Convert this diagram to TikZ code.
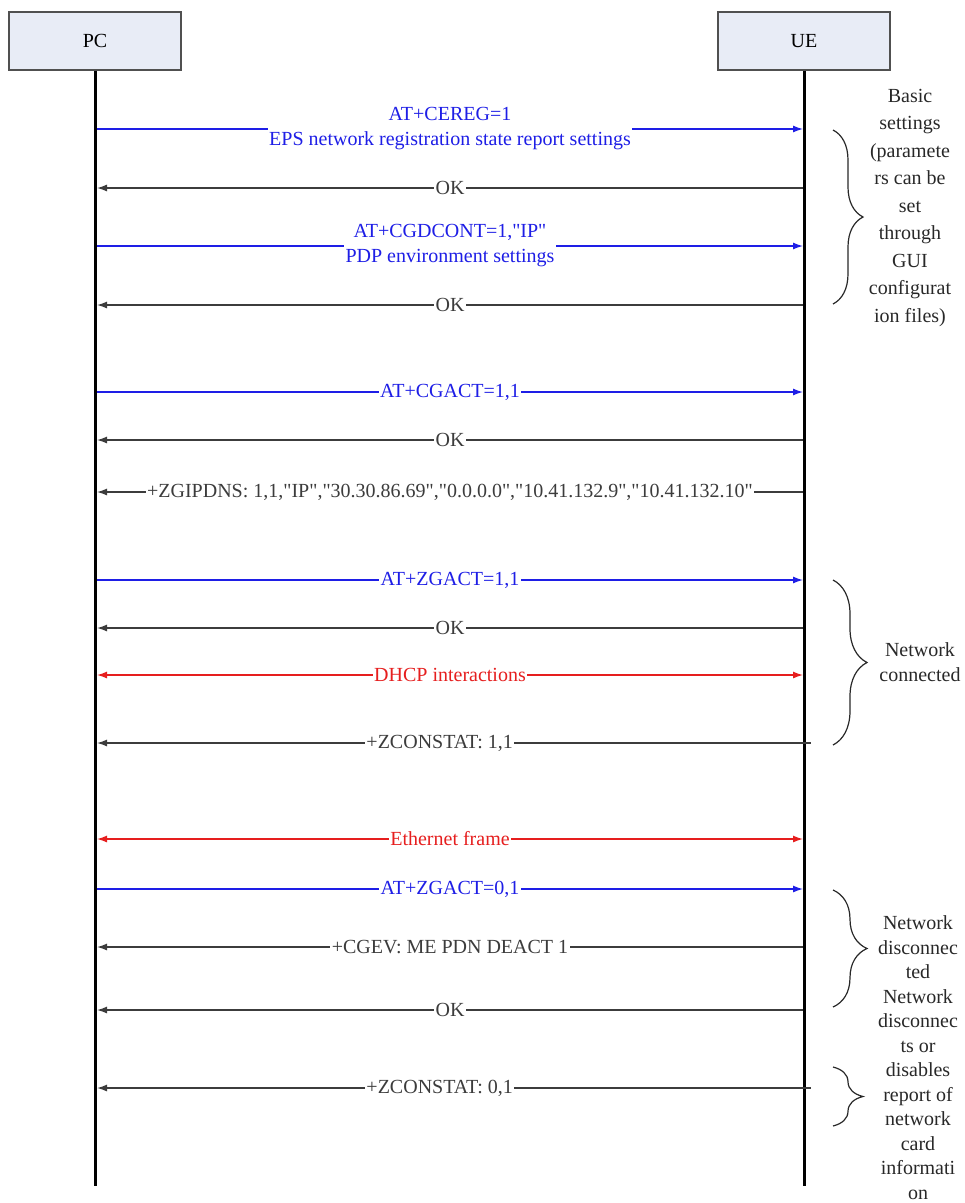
\documentclass[tikz,border=0pt]{standalone}
\usepackage{fontspec}
\setmainfont{Liberation Serif}
\usetikzlibrary{arrows.meta, decorations.pathreplacing}

\definecolor{boxfill}{RGB}{232,236,246}
\definecolor{boxgray}{RGB}{80,80,80}
\definecolor{reqblue}{RGB}{30,30,230}
\definecolor{rspgray}{RGB}{60,60,60}
\definecolor{datared}{RGB}{230,30,30}
\definecolor{notegray}{RGB}{40,40,40}

\begin{document}
\begin{tikzpicture}
  [x=1pt, y=-1pt,
   >={Latex[length=10pt,width=7pt]},
   entity/.style={rectangle, draw=boxgray, fill=boxfill, line width=1.2pt,
                  minimum width=172pt, minimum height=58pt,
                  font=\fontsize{20}{25}\selectfont},
   lifeline/.style={line width=3pt},
   req/.style={->, draw=reqblue, line width=1.3pt},
   rsp/.style={<-, draw=rspgray, line width=1.3pt},
   data/.style={<->, draw=datared, line width=1.3pt},
   msg/.style={fill=white, inner xsep=1.5pt, inner ysep=1pt, align=center,
               font=\fontsize{20}{25}\selectfont, text=rspgray},
   reqmsg/.style={msg, text=reqblue},
   datamsg/.style={msg, text=datared},
   note/.style={align=center, text=notegray},
   bracket/.style={decorate, decoration={brace, amplitude=34pt},
                   draw=notegray, line width=1.2pt}]

  \useasboundingbox (0,0) rectangle (965,1203);

  % Teilnehmer
  \node (pc) at (95,41) [entity] {PC};
  \node (ue) at (804,41) [entity] {UE};
  \coordinate (pcend) at (95,1186);
  \coordinate (ueend) at (804,1186);
  \draw [lifeline] (pc) -- (pcend);
  \draw [lifeline] (ue) -- (ueend);

  % Grundeinstellungen
  \coordinate (pc1) at (97,129);  \coordinate (ue1) at (803,129);
  \draw [req] (pc1) -- node [reqmsg]
    {AT+CEREG=1\\EPS network registration state report settings} (ue1);
  \coordinate (pc2) at (97,188);  \coordinate (ue2) at (803,188);
  \draw [rsp] (pc2) -- node [msg] {OK} (ue2);
  \coordinate (pc3) at (97,246);  \coordinate (ue3) at (803,246);
  \draw [req] (pc3) -- node [reqmsg]
    {AT+CGDCONT=1,\textquotedbl IP\textquotedbl\\PDP environment settings} (ue3);
  \coordinate (pc4) at (97,305);  \coordinate (ue4) at (803,305);
  \draw [rsp] (pc4) -- node [msg] {OK} (ue4);

  % PDP-Kontext
  \coordinate (pc5) at (97,392);  \coordinate (ue5) at (803,392);
  \draw [req] (pc5) -- node [reqmsg] {AT+CGACT=1,1} (ue5);
  \coordinate (pc6) at (97,440);  \coordinate (ue6) at (803,440);
  \draw [rsp] (pc6) -- node [msg] {OK} (ue6);
  \coordinate (pc7) at (97,492);  \coordinate (ue7) at (803,492);
  \draw [rsp] (pc7) -- node [msg]
    {+ZGIPDNS: 1,1,\textquotedbl IP\textquotedbl,\textquotedbl 30.30.86.69\textquotedbl,\textquotedbl 0.0.0.0\textquotedbl,\textquotedbl 10.41.132.9\textquotedbl,\textquotedbl 10.41.132.10\textquotedbl} (ue7);

  % Verbindung
  \coordinate (pc8) at (97,580);  \coordinate (ue8) at (803,580);
  \draw [req] (pc8) -- node [reqmsg] {AT+ZGACT=1,1} (ue8);
  \coordinate (pc9) at (97,628);  \coordinate (ue9) at (803,628);
  \draw [rsp] (pc9) -- node [msg] {OK} (ue9);
  \coordinate (pc10) at (97,675); \coordinate (ue10) at (803,675);
  \draw [data] (pc10) -- node [datamsg] {DHCP interactions} (ue10);
  \coordinate (pc11) at (97,743); \coordinate (ue11) at (811,743);
  \draw [rsp] (pc11) -- node [msg, pos=0.48] {+ZCONSTAT: 1,1} (ue11);

  % Daten und Trennung
  \coordinate (pc12) at (97,839); \coordinate (ue12) at (803,839);
  \draw [data] (pc12) -- node [datamsg] {Ethernet frame} (ue12);
  \coordinate (pc13) at (97,889); \coordinate (ue13) at (803,889);
  \draw [req] (pc13) -- node [reqmsg] {AT+ZGACT=0,1} (ue13);
  \coordinate (pc14) at (97,947); \coordinate (ue14) at (803,947);
  \draw [rsp] (pc14) -- node [msg] {+CGEV: ME PDN DEACT 1} (ue14);
  \coordinate (pc15) at (97,1010); \coordinate (ue15) at (803,1010);
  \draw [rsp] (pc15) -- node [msg] {OK} (ue15);
  \coordinate (pc16) at (97,1088); \coordinate (ue16) at (811,1088);
  \draw [rsp] (pc16) -- node [msg, pos=0.48] {+ZCONSTAT: 0,1} (ue16);

  % Klammern
  \coordinate (b1top) at (833,130);  \coordinate (b1bot) at (833,304);
  \draw [bracket, decoration={amplitude=30pt}] (b1top) -- (b1bot);
  \coordinate (b2top) at (833,580);  \coordinate (b2bot) at (833,745);
  \draw [bracket] (b2top) -- (b2bot);
  \coordinate (b3top) at (833,890);  \coordinate (b3bot) at (833,1007);
  \draw [bracket] (b3top) -- (b3bot);
  \coordinate (b4top) at (833,1067); \coordinate (b4bot) at (833,1126);
  \draw [bracket, decoration={amplitude=30pt}] (b4top) -- (b4bot);

  % Anmerkungen
  \node (basic) at (910,208) [note, font=\fontsize{20}{27.5}\selectfont]
    {Basic\\settings\\(paramete\\rs can be\\set\\through\\GUI\\configurat\\ion files)};
  \node (conn) at (920,662) [note, font=\fontsize{20}{25}\selectfont]
    {Network\\connected};
  \node (disc) at (918,947.5) [note, font=\fontsize{20}{24.5}\selectfont]
    {Network\\disconnec\\ted};
  \node (report) at (918,1094.5) [note, font=\fontsize{20}{24.5}\selectfont]
    {Network\\disconnec\\ts or\\disables\\report of\\network\\card\\informati\\on};

\end{tikzpicture}
\end{document}
